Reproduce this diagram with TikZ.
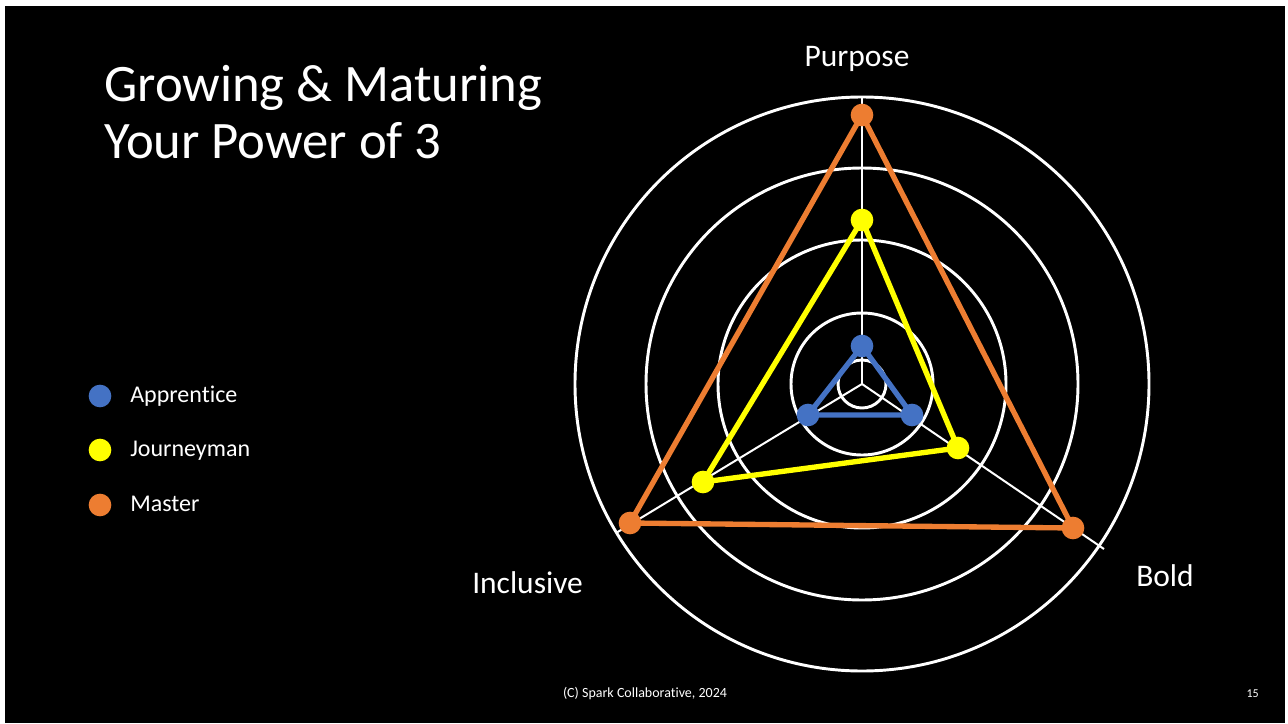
\documentclass[tikz,border=0pt]{standalone}
\usepackage{fontspec}
\setmainfont{Carlito}[Ligatures=NoCommon]
\definecolor{appblue}{HTML}{4472C4}
\definecolor{jyellow}{HTML}{FFFF00}
\definecolor{morange}{HTML}{ED7D31}
\tikzset{
  grid ring/.style={draw=white, line width=2.2pt},
  spoke/.style={draw=white, line width=1.5pt},
  series/.style={line width=4pt, line join=round},
  marker/.style={circle, fill=#1, inner sep=0pt, minimum size=17pt},
  legtext/.style={text=white, anchor=base west, font=\fontsize{18}{20}\selectfont, inner sep=0pt},
  axislabel/.style={text=white, font=\fontsize{23.6}{26}\selectfont, inner sep=0pt},
  titletext/.style={text=white, anchor=base west, inner sep=0pt, font=\fontsize{39.5}{42}\selectfont},
}
\begin{document}
\begin{tikzpicture}[x=0.75pt, y=-0.75pt]
\useasboundingbox (0,0) rectangle (1288,724);
\fill[white] (0,0) rectangle (1288,724);
\fill[black] (5,6) rectangle (1285,723);

% title
\node[titletext] (t1) at (104,102) {Growing \& Maturing};
\node[titletext] (t2) at (104,158) {Your Power of 3};

% chart geometry
\coordinate (C) at (862,384);
\draw[grid ring] (C) circle[radius=287];
\draw[grid ring] (C) circle[radius=216];
\draw[grid ring] (C) circle[radius=144];
\draw[grid ring] (C) circle[radius=71];
\draw[grid ring] (C) circle[radius=24];
\coordinate (endP) at (862,97);
\coordinate (endB) at (1104,549);
\coordinate (endI) at (616,533);
\draw[spoke] (C) -- (endP);
\draw[spoke] (C) -- (endB);
\draw[spoke] (C) -- (endI);

% data points
\coordinate (mP) at (862,115);
\coordinate (mB) at (1073,528);
\coordinate (mI) at (630,523);
\coordinate (jP) at (862,220);
\coordinate (jB) at (958,448);
\coordinate (jI) at (703,482);
\coordinate (aP) at (862,346);
\coordinate (aB) at (912,415);
\coordinate (aI) at (808,415);

\draw[series, morange] (mP) -- (mB) -- (mI) -- cycle;
\draw[series, jyellow] (jP) -- (jB) -- (jI) -- cycle;
\draw[series, appblue] (aP) -- (aB) -- (aI) -- cycle;
\foreach \p in {mP,mB,mI} \node[marker=morange] (n\p) at (\p) {};
\foreach \p in {jP,jB,jI} \node[marker=jyellow] (n\p) at (\p) {};
\foreach \p in {aP,aB,aI} \node[marker=appblue] (n\p) at (\p) {};

% axis labels
\node[axislabel, anchor=base] (lP) at (857,67) {Purpose};
\node[axislabel, anchor=base west] (lB) at (1136,586) {Bold};
\node[axislabel, anchor=base west] (lI) at (472,593) {Inclusive};

% legend
\node[marker=appblue] (la) at (100,396) {};
\node[marker=jyellow] (lj) at (100,450) {};
\node[marker=morange] (lm) at (100,505) {};
\node[legtext] (ta) at (130,402) {Apprentice};
\node[legtext] (tj) at (130,456) {Journeyman};
\node[legtext] (tm) at (130,511) {Master};

% footer
\node[text=white, anchor=base, inner sep=0pt, font=\fontsize{10.5}{12}\selectfont] (foot) at (645,697) {(C) Spark Collaborative, 2024};
\node[text=white, anchor=base east, inner sep=0pt, font=\fontsize{9}{11}\selectfont] (pg) at (1259,697) {15};
\end{tikzpicture}
\end{document}
